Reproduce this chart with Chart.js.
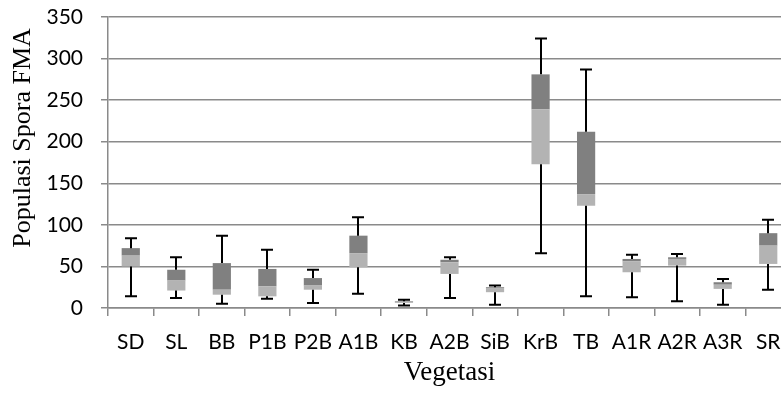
<!DOCTYPE html>
<html lang="id">
<head>
<meta charset="UTF-8">
<script src="https://cdn.jsdelivr.net/npm/chart.js"></script>
<style>
  html, body { margin: 0; padding: 0; background: #fff; overflow: hidden; }
  #wrap { width: 781px; height: 394px; overflow: hidden; }
</style>
</head>
<body>
<div id="wrap">
  <canvas id="boxChart" width="800" height="394"></canvas>
</div>
<script>
// values
const categories = ['SD', 'SL', 'BB', 'P1B', 'P2B', 'A1B', 'KB', 'A2B', 'SiB', 'KrB', 'TB', 'A1R', 'A2R', 'A3R', 'SR'];
const minVals = [14, 12, 5, 11, 6, 17, 3, 12, 4, 66, 14, 13, 8, 4, 22];
const q1Vals  = [50, 21, 16, 14, 22, 49, 6, 41, 19, 173, 123, 43, 51, 23, 53];
const medVals = [63, 33, 22, 26, 27, 66, 7, 55, 24, 239, 137, 56, 59, 28, 75];
const q3Vals  = [72, 46, 54, 47, 36, 87, 8, 58, 25, 281, 212, 59, 61, 31, 90];
const maxVals = [84, 61, 87, 70, 46, 109, 10, 61, 27, 324, 287, 64, 65, 35, 106];
const yTicks = [0, 50, 100, 150, 200, 250, 300, 350];

const gridColor = '#8a8a8a';
const tickFont = { family: 'Lato', size: 21 };

// whiskers: q3 up to max, q1 down to min (like excel error bars)
const whiskerPlugin = {
    id: 'whiskers',
    afterDatasetsDraw(chart) {
        const ctx = chart.ctx;
        const xs = chart.scales.x, ys = chart.scales.y;
        ctx.save();
        ctx.strokeStyle = '#000';
        ctx.lineWidth = 2;
        categories.forEach((c, i) => {
            const x = Math.round(xs.getPixelForValue(i));
            const top = ys.getPixelForValue(maxVals[i]);
            const bot = ys.getPixelForValue(minVals[i]);
            ctx.beginPath();
            ctx.moveTo(x, top);
            ctx.lineTo(x, ys.getPixelForValue(q3Vals[i]));
            ctx.moveTo(x, ys.getPixelForValue(q1Vals[i]));
            ctx.lineTo(x, bot);
            ctx.moveTo(x - 6, top);
            ctx.lineTo(x + 6, top);
            ctx.moveTo(x - 6, bot);
            ctx.lineTo(x + 6, bot);
            ctx.stroke();
        });
        ctx.restore();
    }
};

// y title sits a bit above the middle in the original, so draw it by hand
const yTitlePlugin = {
    id: 'yTitle',
    afterDraw(chart) {
        const ctx = chart.ctx;
        ctx.save();
        ctx.translate(23, 138);
        ctx.rotate(-Math.PI / 2);
        ctx.font = '26px "Liberation Serif"';
        ctx.fillStyle = '#000';
        ctx.textAlign = 'center';
        ctx.textBaseline = 'middle';
        ctx.fillText('Populasi Spora FMA', 0, 0);
        ctx.restore();
    }
};

const ctx = document.getElementById('boxChart').getContext('2d');
new Chart(ctx, {
    type: 'bar',
    data: {
        labels: categories,
        datasets: [
            {
                label: 'Q1-Median',
                data: q1Vals.map((q, i) => [q, medVals[i]]),
                backgroundColor: '#b3b3b3',
                grouped: false
            },
            {
                label: 'Median-Q3',
                data: medVals.map((m, i) => [m, q3Vals[i]]),
                backgroundColor: '#808080',
                grouped: false
            }
        ]
    },
    options: {
        responsive: false,
        animation: false,
        events: [],
        categoryPercentage: 1,
        barPercentage: 0.4,
        layout: { padding: { top: 17, right: 9, left: 0, bottom: 0 } },
        plugins: {
            legend: { display: false },
            tooltip: { enabled: false }
        },
        scales: {
            x: {
                grid: {
                    display: true,
                    offset: true,
                    drawOnChartArea: false,
                    drawTicks: true,
                    tickLength: 8,
                    color: gridColor,
                    lineWidth: 1.5
                },
                border: { color: gridColor, width: 1.5 },
                ticks: { color: '#000', font: tickFont, padding: 14, maxRotation: 0, autoSkip: false },
                title: {
                    display: true,
                    text: 'Vegetasi',
                    color: '#000',
                    font: { family: 'Liberation Serif', size: 27 },
                    padding: { top: 0, bottom: 5 }
                },
                afterFit(scale) { scale.height = 86; }
            },
            y: {
                min: 0,
                max: 350,
                afterBuildTicks(scale) { scale.ticks = yTicks.map(v => ({ value: v })); },
                grid: { color: gridColor, lineWidth: 1.5, tickLength: 7 },
                border: { color: gridColor, width: 1.5 },
                ticks: { color: '#000', font: tickFont, padding: 18 },
                afterFit(scale) {
                    scale.width = 108;
                    scale.paddingTop = 0;
                    scale.paddingBottom = 0;
                }
            }
        }
    },
    plugins: [whiskerPlugin, yTitlePlugin]
});
</script>
</body>
</html>
